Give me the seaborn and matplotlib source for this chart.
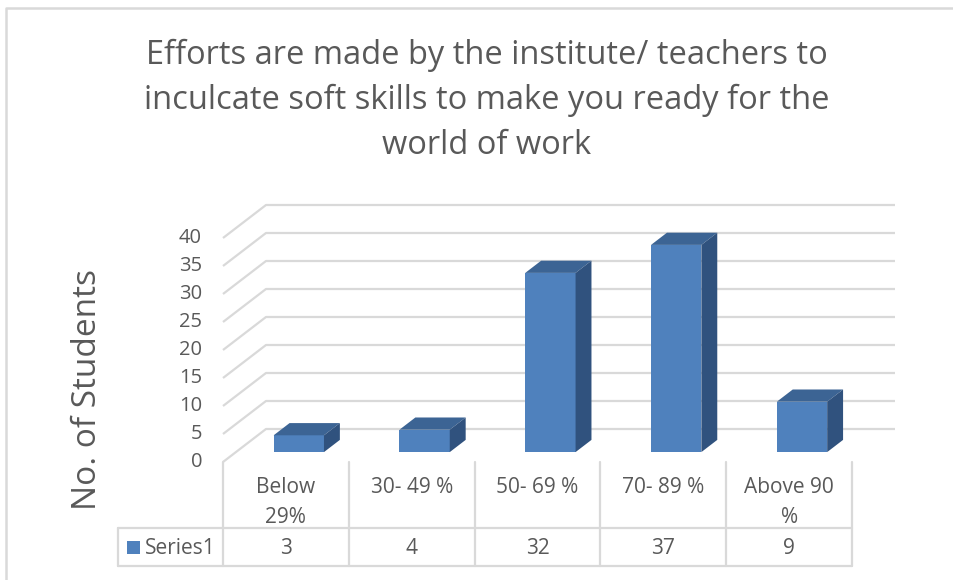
import numpy as np
import matplotlib
matplotlib.use("Agg")
import matplotlib.pyplot as plt
import matplotlib.transforms as mtransforms
from matplotlib.patches import Polygon, Rectangle
from matplotlib.lines import Line2D
import seaborn as sns

# ---- data ----
categories = ["Below 29%", "30- 49 %", "50- 69 %", "70- 89 %", "Above 90 %"]
table_labels = ["Below\n29%", "30- 49 %", "50- 69 %", "70- 89 %", "Above 90\n%"]
values = [3, 4, 32, 37, 9]
series_name = "Series1"
y_ticks = [0, 5, 10, 15, 20, 25, 30, 35, 40]
title = "Efforts are made by the institute/ teachers to\ninculcate soft skills to make you ready for the\nworld of work"
y_label = "No. of Students"

sns.set_theme(style="white")
plt.rcParams["font.family"] = ["Open Sans", "DejaVu Sans"]

W, H, DPI = 954, 580, 100
fig = plt.figure(figsize=(W / DPI, H / DPI), dpi=DPI)
TXT = "#595959"
GRID = "#D9D9D9"
FRONT = "#4F81BD"
TOP = "#3C6494"
SIDE = "#30527E"

# front plane of the 3D box (pixel coords from the top-left)
x0, x1 = 223, 852
y_zero, y_top = 462, 238
ax = fig.add_axes([x0 / W, (H - y_zero) / H, (x1 - x0) / W, (y_zero - y_top) / H])
ax.set_xlim(-0.5, len(categories) - 0.5)
ax.set_ylim(0, 40)
ax.axis("off")
ax.set_zorder(1)
ax.patch.set_visible(False)

DEPTH = np.array([43.0, 33.0])  # pixel depth vector (display, y up)
d0, d1 = 0.30, 0.67             # bar front / back depth fractions
inv = fig.transFigure.inverted()


def P(x, v, d):
    pt = ax.transData.transform((x, v)) + d * DEPTH
    return inv.transform(pt)


# back wall gridlines + left side wall lines
for t in y_ticks:
    a = P(-0.5, t, 0)
    b = P(-0.5, t, 1)
    c = P(len(categories) - 0.5, t, 1)
    fig.add_artist(Line2D([a[0], b[0], c[0]], [a[1], b[1], c[1]], transform=fig.transFigure,
                          color=GRID, lw=1.6, zorder=0.5, solid_capstyle="butt"))
    fig.text(a[0] - 21 / W, a[1], str(t), ha="right", va="center", fontsize=14.5,
             color=TXT)

# bars (front faces via seaborn)
sns.barplot(x=categories, y=values, color=FRONT, saturation=1, width=0.4, ax=ax, zorder=2)
shift = mtransforms.ScaledTranslation(d0 * DEPTH[0] / DPI, d0 * DEPTH[1] / DPI, fig.dpi_scale_trans)
for p in ax.patches:
    p.set_transform(ax.transData + shift)
    p.set_linewidth(0)
    p.set_clip_on(False)
    xl = p.get_x()
    xr = xl + p.get_width()
    v = p.get_height()
    top = [P(xl, v, d0), P(xr, v, d0), P(xr, v, d1), P(xl, v, d1)]
    side = [P(xr, 0, d0), P(xr, 0, d1), P(xr, v, d1), P(xr, v, d0)]
    fig.add_artist(Polygon(top, closed=True, transform=fig.transFigure, facecolor=TOP,
                           edgecolor="none", zorder=3))
    fig.add_artist(Polygon(side, closed=True, transform=fig.transFigure, facecolor=SIDE,
                           edgecolor="none", zorder=3))

# ---- data table ----
def fx(px):
    return px / W


def fy(py):
    return (H - py) / H


col_w = (x1 - x0) / len(categories)
tab_left, row1, row2 = 118, 528, 566
for k in range(len(categories) + 1):
    xx = x0 + k * col_w
    fig.add_artist(Line2D([fx(xx), fx(xx)], [fy(y_zero), fy(row2)], transform=fig.transFigure,
                          color=GRID, lw=1.6))
for yy in (row1, row2):
    fig.add_artist(Line2D([fx(tab_left), fx(x1)], [fy(yy), fy(yy)], transform=fig.transFigure,
                          color=GRID, lw=1.6))
fig.add_artist(Line2D([fx(tab_left), fx(tab_left)], [fy(row1), fy(row2)], transform=fig.transFigure,
                      color=GRID, lw=1.6))

for k, (lab, v) in enumerate(zip(table_labels, values)):
    cx = x0 + (k + 0.5) * col_w
    fig.text(fx(cx), fy(477), lab, ha="center", va="top", fontsize=15, color=TXT,
             linespacing=1.55)
    fig.text(fx(cx), fy(548), str(v), ha="center", va="center", fontsize=15, color=TXT)

fig.add_artist(Rectangle((fx(127), fy(554)), 13 / W, 13 / H, transform=fig.transFigure,
                         facecolor=FRONT, edgecolor="none"))
fig.text(fx(145), fy(548), series_name, ha="left", va="center", fontsize=15, color=TXT)

# ---- title and axis label ----
fig.text(fx(487), fy(100), title, ha="center", va="center", fontsize=23.5, color=TXT,
         linespacing=1.47)
fig.text(fx(88), fy(389), y_label, ha="center", va="center", rotation=90, fontsize=24,
         color=TXT)

# chart border
fig.add_artist(Line2D([fx(6), fx(6), fx(W + 5)], [fy(H + 5), fy(8), fy(8)],
                      transform=fig.transFigure, color=GRID, lw=1.8))

fig.savefig("out.png", dpi=DPI)
